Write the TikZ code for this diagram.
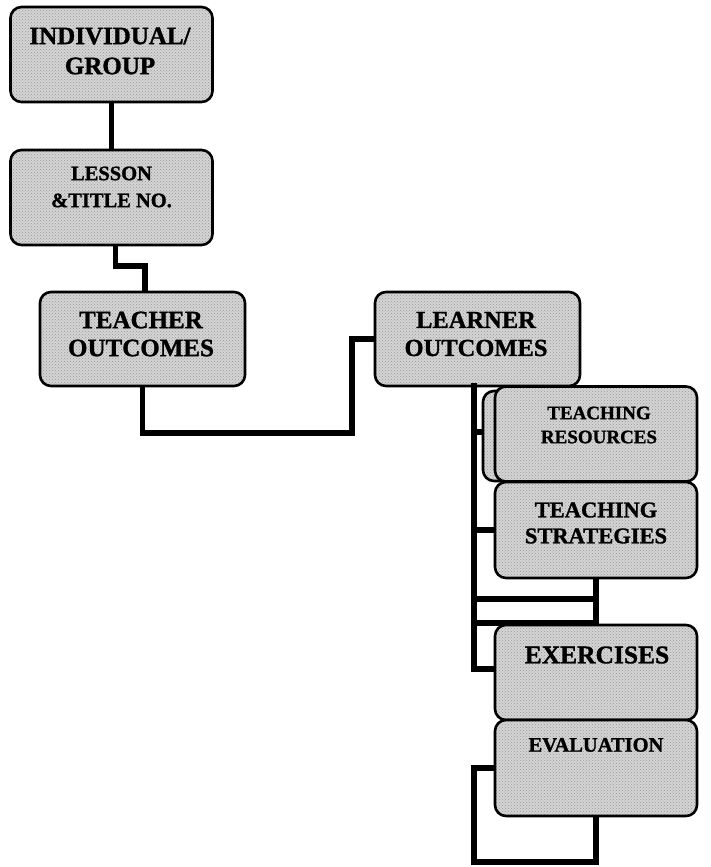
\documentclass[tikz,border=0pt]{standalone}
\usepackage{fontspec}
\setmainfont{Liberation Serif}[BoldFeatures={FakeBold=1.2}]
\usetikzlibrary{patterns}
\begin{document}
\begin{tikzpicture}[x=1pt,y=-1pt,
  box/.style={draw=black,line width=2.6pt,rounded corners=11pt,
    preaction={fill=black!17},pattern=crosshatch dots,pattern color=black!40,
    minimum width=202pt,minimum height=95pt,inner sep=0pt,
    align=center,font=\bfseries},
  lbl/.style={align=center,inner sep=0pt},
  conn/.style={line width=5.5pt,line join=miter,line cap=rect}]
\useasboundingbox (0,0) rectangle (711,867);
% boxes
\node[box,minimum height=95pt] (ind) at (111.5,54.5) {};
\node[lbl,font=\bfseries\fontsize{25}{30}\selectfont] (indt) at (110,51) {INDIVIDUAL/\\GROUP};
\node[box] (les) at (111.5,197.5) {};
\node[lbl,font=\bfseries\fontsize{20.5}{27}\selectfont] (lest) at (111.5,187) {LESSON\\\&TITLE NO.};
\node[box,minimum width=205pt,minimum height=94pt] (tea) at (142.5,339) {};
\node[lbl,font=\bfseries\fontsize{25}{28}\selectfont] (teat) at (141,334) {TEACHER\\OUTCOMES};
\node[box,minimum width=205pt,minimum height=94pt] (lea) at (477.5,339) {};
\node[lbl,font=\bfseries\fontsize{24.5}{28}\selectfont] (leat) at (476,334) {LEARNER\\OUTCOMES};
\node[box,minimum height=90pt] (resb) at (584,436) {};
\node[box] (res) at (596,434) {};
\node[lbl,font=\bfseries\fontsize{19}{24}\selectfont] (rest) at (599,425) {TEACHING\\RESOURCES};
\node[box,minimum height=96pt] (str) at (596,530) {};
\node[lbl,font=\bfseries\fontsize{22.5}{26}\selectfont] (strt) at (596,523) {TEACHING\\STRATEGIES};
\node[box,minimum height=95pt] (exe) at (596,672.5) {};
\node[lbl,font=\bfseries\fontsize{25.5}{30}\selectfont] (exet) at (597,655) {EXERCISES};
\node[box,minimum height=96pt] (eva) at (596,768) {};
\node[lbl,font=\bfseries\fontsize{20.5}{24}\selectfont] (evat) at (596,745) {EVALUATION};
% coordinates
\coordinate (c1) at (145,266);
\coordinate (c2) at (352,433);
\coordinate (tr0) at (474,386);
\coordinate (tr1) at (474,432);
\coordinate (tr2) at (474,530);
\coordinate (l1) at (474,599);
\coordinate (l2) at (474,623);
\coordinate (tr3) at (474,669);
\coordinate (e1) at (474,768);
\coordinate (e3) at (474,862);
% connectors
\draw[conn] (ind.south) -- (les.north);
\draw[conn] ([xshift=4pt]les.south) |- (c1) -- (tea.north -| c1);
\draw[conn] (tea.south) |- (c2) |- (lea.west);
\draw[conn] (tr0) -- (tr3);
\draw[conn] (tr1) -- (tr1 -| resb.west);
\draw[conn] (tr2) -- (str.west);
\draw[conn] (l1) -| (str.south);
\draw[conn] (l2) -| (str.south);
\draw[conn] (tr3) -- (tr3 -| exe.west);
\draw[conn] (eva.west) -- (e1) -- (e3) -| (eva.south);
\end{tikzpicture}
\end{document}
